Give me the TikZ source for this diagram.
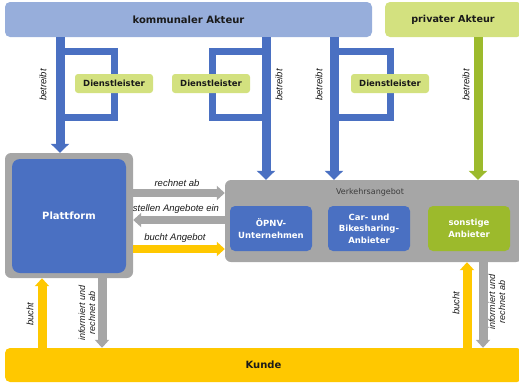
\documentclass[tikz,border=0pt]{standalone}
\usepackage{fontspec}
\setmainfont{DejaVu Sans}
\newfontfamily\lblfont{Liberation Sans}
\usetikzlibrary{arrows.meta}
\definecolor{kblue}{HTML}{97AEDB}
\definecolor{lgreen}{HTML}{D3E17F}
\definecolor{mblue}{HTML}{4A70C2}
\definecolor{dgreen}{HTML}{9CBA2C}
\definecolor{ggray}{HTML}{A6A6A6}
\definecolor{yel}{HTML}{FFC800}
\definecolor{txt}{HTML}{1A1A1A}
\tikzset{
  bar/.style={rounded corners=5pt, inner sep=0pt, text=txt, font=\fontsize{10}{12}\selectfont\bfseries},
  dl/.style={fill=lgreen, rounded corners=3pt, inner sep=0pt, minimum width=78pt, minimum height=19pt, text=txt, font=\fontsize{8.5}{10}\selectfont\bfseries},
  inbox/.style={rounded corners=5pt, inner sep=0pt, minimum width=82pt, minimum height=45pt, align=center, text=white, font=\fontsize{8.5}{11.5}\selectfont\bfseries},
  lbl/.style={inner sep=0pt, text=txt, align=center, font=\lblfont\itshape\fontsize{9.5}{10}\selectfont},
  bluearr/.style={draw=mblue, line width=9pt, -{Triangle[width=18pt,length=9pt]}},
  greenarr/.style={draw=dgreen, line width=9pt, -{Triangle[width=18pt,length=9pt]}},
  grayarr/.style={draw=ggray, line width=8pt, -{Triangle[width=14pt,length=8pt]}},
  yelarr/.style={draw=yel, line width=8pt, -{Triangle[width=14pt,length=8pt]}},
  bracket/.style={draw=mblue, line width=7pt},
}
\begin{document}
\begin{tikzpicture}[x=1pt,y=-1pt]
\useasboundingbox (0,0) rectangle (519,383);
% x positions
\coordinate (xa1) at (60,0);
\coordinate (xa2) at (266,0);
\coordinate (xa3) at (334,0);
\coordinate (xg) at (478,0);
\coordinate (ybr1) at (0,51);
\coordinate (ybr2) at (0,117);
\coordinate (yh1) at (0,193);
\coordinate (yh2) at (0,220);
\coordinate (yh3) at (0,249);
\coordinate (xb1) at (42,0);
\coordinate (xb2) at (102,0);
\coordinate (xb3) at (467,0);
\coordinate (xb4) at (483,0);

% top bars
\node[bar, fill=kblue, minimum width=367pt, minimum height=35pt] (kom) at (188.5,19.5) {kommunaler Akteur};
\node[bar, fill=lgreen, minimum width=137pt, minimum height=35pt, font=\fontsize{9.6}{12}\selectfont\bfseries] (priv) at (453.5,19.5) {};
\node[inner sep=0pt, text=txt, font=\fontsize{9.6}{12}\selectfont\bfseries] (privt) at (453,19.5) {privater Akteur};

% Plattform
\node[fill=ggray, rounded corners=6pt, inner sep=0pt, minimum width=128pt, minimum height=125pt] (plat) at (69,215.5) {};
\node[fill=mblue, rounded corners=8pt, inner sep=0pt, minimum width=114pt, minimum height=114pt, text=white, font=\fontsize{10}{12}\selectfont\bfseries] (platin) at (69,216) {Plattform};

% Verkehrsangebot
\node[fill=ggray, rounded corners=6pt, inner sep=0pt, minimum width=297pt, minimum height=82pt] (verk) at (373.5,221) {};
\node[inner sep=0pt, text=txt!85, font=\fontsize{8}{10}\selectfont] (verkt) at (370,192) {Verkehrsangebot};
\node[inbox, fill=mblue] (oepnv) at (271,228.5) {ÖPNV-\\Unternehmen};
\node[inbox, fill=mblue] (car) at (369,228.5) {Car- und\\Bikesharing-\\Anbieter};
\node[inbox, fill=dgreen] (sonst) at (469,228.5) {sonstige\\Anbieter};

% Kunde
\node[bar, fill=yel, minimum width=517pt, minimum height=34pt] (kunde) at (263.5,365) {Kunde};

% brackets
\draw[bracket] (kom.south -| xa1) |- (ybr1 -| 114,0) |- (ybr2 -| xa1);
\draw[bracket] (xa2 |- ybr1) -| (212,84) |- (xa2 |- ybr2);
\draw[bracket] (xa3 |- ybr1) -| (390,84) |- (xa3 |- ybr2);

% vertical arrows from top
\draw[bluearr] (kom.south -| xa1) -- (plat.north -| xa1);
\draw[bluearr] (kom.south -| xa2) -- (verk.north -| xa2);
\draw[bluearr] (kom.south -| xa3) -- (verk.north -| xa3);
\draw[greenarr] (priv.south -| xg) -- (verk.north -| xg);

% Dienstleister
\node[dl] (d1) at (114,83.5) {Dienstleister};
\node[dl] (d2) at (211,83.5) {Dienstleister};
\node[dl] (d3) at (390,83.5) {Dienstleister};

% betreibt labels
\node[lbl, rotate=90] (b1) at (43,85) {betreibt};
\node[lbl, rotate=90] (b2) at (279,85) {betreibt};
\node[lbl, rotate=90] (b3) at (319,85) {betreibt};
\node[lbl, rotate=90] (b4) at (466,85) {betreibt};

% horizontal arrows
\draw[grayarr] (plat.east |- yh1) -- (verk.west |- yh1);
\draw[grayarr] (verk.west |- yh2) -- (plat.east |- yh2);
\draw[yelarr] (plat.east |- yh3) -- (verk.west |- yh3);
\node[lbl] (l1) at (177,183) {rechnet ab};
\node[lbl] (l2) at (176,209.5) {stellen Angebote ein};
\node[lbl] (l3) at (175,238.5) {bucht Angebot};

% bottom arrows
\draw[yelarr, line width=9pt] (kunde.north -| xb1) -- (plat.south -| xb1);
\draw[grayarr, line width=9pt] (plat.south -| xb2) -- (kunde.north -| xb2);
\draw[yelarr, line width=9pt] (kunde.north -| xb3) -- (verk.south -| xb3);
\draw[grayarr, line width=9pt] (verk.south -| xb4) -- (kunde.north -| xb4);
\node[lbl, rotate=90] (bu1) at (30,314) {bucht};
\node[lbl, rotate=90, font=\lblfont\itshape\fontsize{9}{10}\selectfont] (in1) at (87,313) {informiert und\\rechnet ab};
\node[lbl, rotate=90] (bu2) at (456,303) {bucht};
\node[lbl, rotate=90, font=\lblfont\itshape\fontsize{9}{10}\selectfont] (in2) at (497,302) {informiert und\\rechnet ab};
\end{tikzpicture}
\end{document}
